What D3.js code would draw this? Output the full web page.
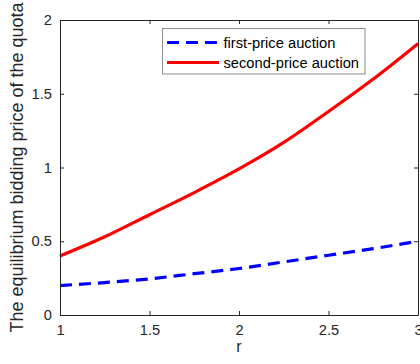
<!DOCTYPE html>
<html>
<head>
<meta charset="utf-8">
<script src="https://cdn.jsdelivr.net/npm/d3@7"></script>
<style>
  html, body { margin: 0; padding: 0; background: #fff; }
  svg { display: block; font-family: "Liberation Sans", Arial, sans-serif; }
</style>
</head>
<body>
<svg id="chart" width="420" height="364"></svg>
<script>
// Sampled values of r and the equilibrium bidding price for each auction format
const rValues = [1, 1.25, 1.5, 1.75, 2, 2.25, 2.5, 2.75, 3];
const firstPrice = [0.20, 0.22, 0.245, 0.28, 0.315, 0.36, 0.405, 0.45, 0.50];
const secondPrice = [0.40, 0.53, 0.68, 0.83, 0.99, 1.17, 1.38, 1.60, 1.84];
const xTicks = [1, 1.5, 2, 2.5, 3];
const yTicks = [0, 0.5, 1, 1.5, 2];
const seriesNames = ["first-price auction", "second-price auction"];

(function () {
  const svg = d3.select("#chart");
  const plotLeft = 60, plotRight = 418, plotTop = 20, plotBottom = 315;
  const axisColor = "#262626";

  const x = d3.scaleLinear().domain([1, 3]).range([plotLeft, plotRight]);
  const y = d3.scaleLinear().domain([0, 2]).range([plotBottom, plotTop]);

  // Curves
  const line = d3.line().x((d, i) => x(rValues[i])).y(d => y(d)).curve(d3.curveMonotoneX);

  svg.append("path").datum(firstPrice)
    .attr("d", line).attr("fill", "none")
    .attr("stroke", "#0000ff").attr("stroke-width", 3.2)
    .attr("stroke-dasharray", "12,7");

  svg.append("path").datum(secondPrice)
    .attr("d", line).attr("fill", "none")
    .attr("stroke", "#ff0000").attr("stroke-width", 3.2);

  // Axes with inward ticks on all four sides
  const tickLen = 4;
  const fmt = d => String(d);

  const gx = svg.append("g").attr("transform", `translate(0,${plotBottom})`)
    .call(d3.axisBottom(x).tickValues(xTicks).tickFormat(fmt).tickSizeInner(-tickLen).tickSizeOuter(0).tickPadding(10));
  const gxTop = svg.append("g").attr("transform", `translate(0,${plotTop})`)
    .call(d3.axisTop(x).tickValues(xTicks).tickFormat("").tickSizeInner(-tickLen).tickSizeOuter(0));
  const gy = svg.append("g").attr("transform", `translate(${plotLeft},0)`)
    .call(d3.axisLeft(y).tickValues(yTicks).tickFormat(fmt).tickSizeInner(-tickLen).tickSizeOuter(0).tickPadding(8));
  const gyRight = svg.append("g").attr("transform", `translate(${plotRight},0)`)
    .call(d3.axisRight(y).tickValues(yTicks).tickFormat("").tickSizeInner(-tickLen).tickSizeOuter(0));

  [gx, gxTop, gy, gyRight].forEach(g => {
    g.select(".domain").attr("stroke", axisColor);
    g.selectAll(".tick line").attr("stroke", axisColor);
    g.selectAll(".tick text").attr("fill", axisColor)
      .style("font-size", "14.7px").style("font-family", "Liberation Sans, Arial, sans-serif");
  });

  // Axis titles
  svg.append("text")
    .attr("x", (plotLeft + plotRight) / 2).attr("y", 352)
    .attr("text-anchor", "middle").attr("fill", axisColor)
    .style("font-size", "16px").text("r");

  svg.append("text")
    .attr("transform", `translate(23,${(plotTop + plotBottom) / 2}) rotate(-90)`)
    .attr("text-anchor", "middle").attr("fill", axisColor)
    .style("font-size", "18px")
    .text("The equilibrium bidding price of the quota");

  // Legend
  const legend = svg.append("g");
  legend.append("rect")
    .attr("x", 162.5).attr("y", 28.5).attr("width", 202.5).attr("height", 45.5)
    .attr("fill", "#fff").attr("stroke", "#8c8c8c").attr("stroke-width", 1);

  const legendRows = [
    { name: seriesNames[0], color: "#0000ff", dash: "12,7", yy: 42.5 },
    { name: seriesNames[1], color: "#ff0000", dash: null, yy: 62.5 }
  ];
  legendRows.forEach(r => {
    const l = legend.append("line")
      .attr("x1", 167).attr("x2", 219).attr("y1", r.yy).attr("y2", r.yy)
      .attr("stroke", r.color).attr("stroke-width", 3.2);
    if (r.dash) l.attr("stroke-dasharray", r.dash);
    legend.append("text")
      .attr("x", 223.5).attr("y", r.yy).attr("dy", "0.35em")
      .attr("fill", "#000").style("font-size", "14.7px").text(r.name);
  });
})();
</script>
</body>
</html>
